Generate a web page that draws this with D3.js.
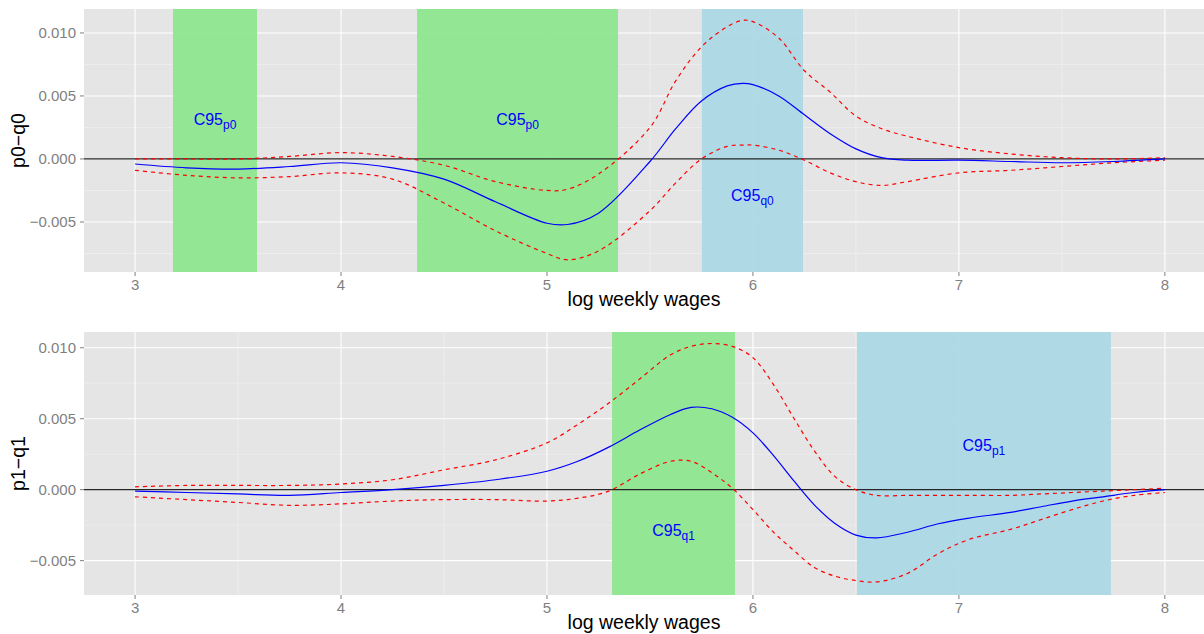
<!DOCTYPE html>
<html>
<head>
<meta charset="utf-8">
<script src="https://cdn.jsdelivr.net/npm/d3@7"></script>
<style>
body { margin: 0; background: #fff; }
svg text { font-family: "Liberation Sans", Arial, sans-serif; }
</style>
</head>
<body>
<div id="chart"></div>
<script>
/* two stacked panels: difference curves with 95% bands */

// top panel : p0-q0
var topWage  = [3.0, 3.25, 3.5, 3.75, 4.0, 4.25, 4.5, 4.75, 5.0, 5.1, 5.25, 5.5, 5.625, 5.75, 5.875, 5.95, 6.0, 6.125, 6.25, 6.375, 6.5, 6.625, 6.75, 7.0, 7.25, 7.5, 7.75, 8.0];
var topEst   = [-0.0004, -0.0007, -0.0008, -0.0006, -0.0003, -0.0007, -0.0016, -0.0034, -0.0051, -0.0052, -0.0043, -0.0002, 0.0024, 0.0046, 0.0058, 0.0060, 0.0059, 0.0050, 0.0035, 0.0020, 0.0008, 0.0001, -0.0001, -0.0001, -0.0002, -0.0003, -0.0002, 0.0000];
var topUpper = [0.0000, 0.0000, 0.0000, 0.0002, 0.0005, 0.0002, -0.0005, -0.0018, -0.0025, -0.0024, -0.0012, 0.0025, 0.0062, 0.0089, 0.0105, 0.0110, 0.0109, 0.0096, 0.0070, 0.0053, 0.0034, 0.0024, 0.0018, 0.0009, 0.0004, 0.0001, 0.0000, 0.0001];
var topLower = [-0.0009, -0.0013, -0.0015, -0.0014, -0.0011, -0.0016, -0.0035, -0.0057, -0.0075, -0.0080, -0.0073, -0.0041, -0.0019, 0.0000, 0.0010, 0.0011, 0.0011, 0.0007, -0.0001, -0.0011, -0.0018, -0.0021, -0.0018, -0.0011, -0.0009, -0.0006, -0.0003, -0.0001];
var topBandFrom = [3.184, 4.369, 5.752];
var topBandTo   = [3.592, 5.345, 6.243];
var topBandKind = ["p", "p", "q"];
var topBandSub  = ["p0", "p0", "q0"];
var topLabelY   = [0.003, 0.003, -0.003];

// bottom panel : p1-q1
var botWage  = [3.0, 3.25, 3.5, 3.75, 4.0, 4.25, 4.5, 4.75, 5.0, 5.15, 5.3, 5.45, 5.6, 5.7, 5.8, 5.9, 6.0, 6.1, 6.2, 6.3, 6.4, 6.5, 6.6, 6.75, 6.9, 7.05, 7.25, 7.4, 7.55, 7.7, 7.85, 8.0];
var botEst   = [-0.0001, -0.0002, -0.0003, -0.0004, -0.0002, 0.0000, 0.0003, 0.0007, 0.0013, 0.0020, 0.0030, 0.0042, 0.0053, 0.0058, 0.0057, 0.0051, 0.0040, 0.0024, 0.0006, -0.0011, -0.0024, -0.0032, -0.0034, -0.0030, -0.0024, -0.0020, -0.0016, -0.0012, -0.0008, -0.0005, -0.0002, 0.0000];
var botUpper = [0.0002, 0.0003, 0.0003, 0.0003, 0.0004, 0.0007, 0.0014, 0.0021, 0.0033, 0.0046, 0.0061, 0.0078, 0.0095, 0.0101, 0.0103, 0.0101, 0.0093, 0.0074, 0.0050, 0.0027, 0.0009, 0.0000, -0.0004, -0.0004, -0.0004, -0.0004, -0.0004, -0.0003, -0.0002, -0.0001, 0.0000, 0.0001];
var botLower = [-0.0005, -0.0007, -0.0009, -0.0011, -0.0010, -0.0008, -0.0007, -0.0007, -0.0008, -0.0006, -0.0001, 0.0011, 0.0020, 0.0020, 0.0012, 0.0001, -0.0014, -0.0030, -0.0043, -0.0055, -0.0061, -0.0064, -0.0065, -0.0059, -0.0045, -0.0035, -0.0028, -0.0021, -0.0014, -0.0008, -0.0004, -0.0002];
var botBandFrom = [5.316, 6.505];
var botBandTo   = [5.913, 7.738];
var botBandKind = ["p", "q"];
var botBandSub  = ["q1", "p1"];
var botLabelY   = [-0.003, 0.003];

var xTicks = [3, 4, 5, 6, 7, 8];
var xMinor = [3.5, 4.5, 5.5, 6.5, 7.5];
var yTicks = [-0.005, 0, 0.005, 0.010];
var yMinor = [-0.0075, -0.0025, 0.0025, 0.0075];

var W = 1204, H = 634;
var svg = d3.select("#chart").append("svg").attr("width", W).attr("height", H);

var x = d3.scaleLinear().domain([2.752, 8.19]).range([84, 1204]);

function drawPanel(opt) {
    var y = d3.scaleLinear().domain(opt.ydom).range([opt.bottom, opt.top]);
    var g = svg.append("g");
    var yIn = function (v) { return v >= opt.ydom[0] && v <= opt.ydom[1]; };

    g.append("rect").attr("x", 84).attr("y", opt.top)
        .attr("width", 1204 - 84).attr("height", opt.bottom - opt.top)
        .style("fill", "#e5e5e5");

    // minor grid
    g.selectAll(".mx").data(xMinor).enter().append("line")
        .attr("x1", function (d) { return x(d); }).attr("x2", function (d) { return x(d); })
        .attr("y1", opt.top).attr("y2", opt.bottom)
        .style("stroke", "#f2f2f2").style("stroke-width", 0.6);
    g.selectAll(".my").data(yMinor.filter(yIn)).enter().append("line")
        .attr("x1", 84).attr("x2", 1204)
        .attr("y1", function (d) { return y(d); }).attr("y2", function (d) { return y(d); })
        .style("stroke", "#f2f2f2").style("stroke-width", 0.6);
    // major grid
    g.selectAll(".gx").data(xTicks).enter().append("line")
        .attr("x1", function (d) { return x(d); }).attr("x2", function (d) { return x(d); })
        .attr("y1", opt.top).attr("y2", opt.bottom)
        .style("stroke", "#fff").style("stroke-width", 1.1);
    g.selectAll(".gy").data(yTicks).enter().append("line")
        .attr("x1", 84).attr("x2", 1204)
        .attr("y1", function (d) { return y(d); }).attr("y2", function (d) { return y(d); })
        .style("stroke", "#fff").style("stroke-width", 1.1);

    // confidence regions
    g.selectAll(".band").data(opt.from).enter().append("rect")
        .attr("x", function (d) { return x(d); })
        .attr("y", opt.top)
        .attr("width", function (d, i) { return x(opt.to[i]) - x(d); })
        .attr("height", opt.bottom - opt.top)
        .style("fill", function (d, i) { return opt.kind[i] == "p" ? "#8ee68e" : "#add8e6"; })
        .style("fill-opacity", 0.95);

    // zero line
    g.append("line").attr("x1", 84).attr("x2", 1204)
        .attr("y1", y(0)).attr("y2", y(0))
        .style("stroke", "#262626").style("stroke-width", 1.2);

    var line = d3.line().curve(d3.curveCatmullRom.alpha(0.5))
        .x(function (d) { return x(d[0]); })
        .y(function (d) { return y(d[1]); });
    var pts = function (vals) { return opt.wage.map(function (w, i) { return [w, vals[i]]; }); };

    [opt.upper, opt.lower].forEach(function (s) {
        g.append("path").attr("d", line(pts(s)))
            .style("fill", "none").style("stroke", "#ff0000")
            .style("stroke-width", 1.2).style("stroke-dasharray", "4,4");
    });
    g.append("path").attr("d", line(pts(opt.est)))
        .style("fill", "none").style("stroke", "#0000ff").style("stroke-width", 1.2);

    // band labels
    opt.from.forEach(function (d, i) {
        var t = g.append("text")
            .attr("x", x((d + opt.to[i]) / 2))
            .attr("y", y(opt.labY[i]) + 4)
            .attr("text-anchor", "middle")
            .style("fill", "#0000ff").style("font-size", "16px");
        t.append("tspan").text("C95");
        t.append("tspan").attr("dy", 4).style("font-size", "12px").text(opt.sub[i]);
    });

    // axes ticks + labels
    var fmt = d3.format(".3f");
    g.selectAll(".ty").data(yTicks).enter().append("line")
        .attr("x1", 80).attr("x2", 84)
        .attr("y1", function (d) { return y(d); }).attr("y2", function (d) { return y(d); })
        .style("stroke", "#7f7f7f").style("stroke-width", 1);
    g.selectAll(".ly").data(yTicks).enter().append("text")
        .attr("x", 76).attr("y", function (d) { return y(d) + 5; })
        .attr("text-anchor", "end")
        .style("fill", "#7f7f7f").style("font-size", "15px")
        .text(function (d) { return fmt(d); });
    g.selectAll(".tx").data(xTicks).enter().append("line")
        .attr("x1", function (d) { return x(d); }).attr("x2", function (d) { return x(d); })
        .attr("y1", opt.bottom).attr("y2", opt.bottom + 4)
        .style("stroke", "#7f7f7f").style("stroke-width", 1);
    g.selectAll(".lx").data(xTicks).enter().append("text")
        .attr("x", function (d) { return x(d); }).attr("y", opt.bottom + 18)
        .attr("text-anchor", "middle")
        .style("fill", "#7f7f7f").style("font-size", "15px")
        .text(function (d) { return d; });

    g.append("text").attr("x", x((2.752 + 8.19) / 2)).attr("y", opt.bottom + 34)
        .attr("text-anchor", "middle").style("font-size", "19.5px").style("fill", "#000")
        .text("log weekly wages");
    g.append("text")
        .attr("transform", "translate(25," + (opt.top + opt.bottom) / 2 + ") rotate(-90)")
        .attr("text-anchor", "middle").style("font-size", "19.5px").style("fill", "#000")
        .text(opt.title);
}

drawPanel({
    top: 9, bottom: 272, ydom: [-0.00897, 0.01190],
    wage: topWage, est: topEst, upper: topUpper, lower: topLower,
    from: topBandFrom, to: topBandTo, kind: topBandKind, sub: topBandSub, labY: topLabelY,
    title: "p0\u2212q0"
});
drawPanel({
    top: 332, bottom: 595, ydom: [-0.00742, 0.01111],
    wage: botWage, est: botEst, upper: botUpper, lower: botLower,
    from: botBandFrom, to: botBandTo, kind: botBandKind, sub: botBandSub, labY: botLabelY,
    title: "p1\u2212q1"
});
</script>
</body>
</html>
